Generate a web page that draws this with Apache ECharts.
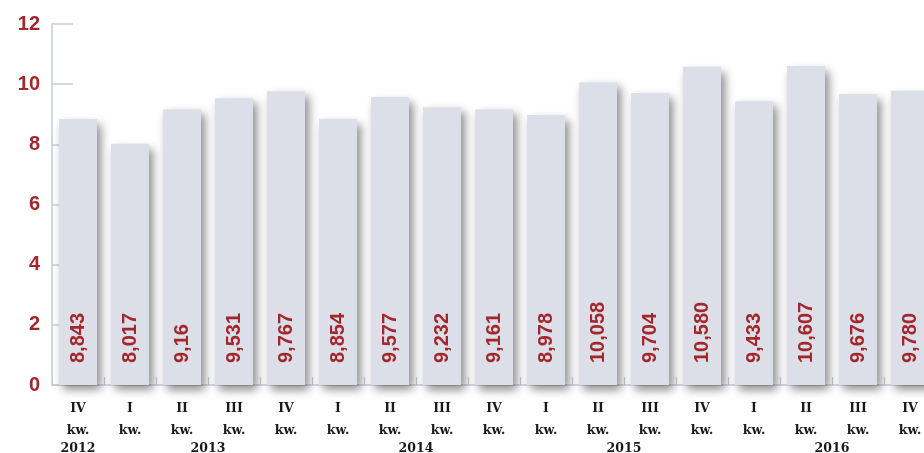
<!DOCTYPE html>
<html>
<head>
<meta charset="utf-8">
<script src="https://cdn.jsdelivr.net/npm/echarts@6/dist/echarts.min.js"></script>
<style>html,body{margin:0;padding:0;background:#fff;}#c{width:924px;height:453px;}</style>
</head>
<body>
<div id="c"></div>
<script>
var quarters = ['IV','I','II','III','IV','I','II','III','IV','I','II','III','IV','I','II','III','IV'];
var values = [8.843, 8.017, 9.16, 9.531, 9.767, 8.854, 9.577, 9.232, 9.161, 8.978, 10.058, 9.704, 10.580, 9.433, 10.607, 9.676, 9.780];
var valueLabels = ['8,843','8,017','9,16','9,531','9,767','8,854','9,577','9,232','9,161','8,978','10,058','9,704','10,580','9,433','10,607','9,676','9,780'];
var years = ['2012','2013','2014','2015','2016'];
// half-band positions (0..34) where each year label is centred
var yearPositions = [1, 6, 14, 22, 30];
var yTicks = [0, 2, 4, 6, 8, 10, 12];

var yearSlots = [];
for (var i = 0; i <= 34; i++) yearSlots.push('');
yearPositions.forEach(function (p, k) { yearSlots[p] = years[k]; });

var red = '#a3272b';
var axisCol = '#c9ccdd';

var chart = echarts.init(document.getElementById('c'));
chart.setOption({
  animation: false,
  grid: { left: 52, top: 24, bottom: 68, width: 884, containLabel: false, outerBoundsMode: 'none' },
  xAxis: [{
    type: 'category',
    data: quarters.map(function (q) { return q + '\nkw.'; }),
    axisLine: { show: true, lineStyle: { color: axisCol, width: 1.5 } },
    axisTick: { show: true, inside: true, length: 8, lineStyle: { color: axisCol } },
    axisLabel: {
      interval: 0, margin: 13, lineHeight: 22,
      fontFamily: 'DejaVu Serif', fontWeight: 'bold', fontSize: 12.5, color: '#1a1a1a'
    }
  }, {
    type: 'category',
    position: 'bottom',
    boundaryGap: false,
    data: yearSlots,
    axisLine: { show: false },
    axisTick: { show: false },
    axisLabel: {
      interval: 0, margin: 57,
      fontFamily: 'DejaVu Serif', fontWeight: 'bold', fontSize: 12.5, color: '#1a1a1a'
    }
  }],
  yAxis: {
    type: 'value',
    min: yTicks[0], max: yTicks[yTicks.length - 1], interval: 2,
    axisLine: { show: true, lineStyle: { color: axisCol, width: 1.5 } },
    axisTick: { show: true, inside: true, length: 21, lineStyle: { color: axisCol, width: 1.5 } },
    splitLine: { show: false },
    axisLabel: {
      margin: 12, fontFamily: 'Liberation Sans', fontWeight: 'bold', fontSize: 20, color: red
    }
  },
  series: [{
    type: 'bar',
    xAxisIndex: 0,
    data: values,
    barWidth: 38,
    itemStyle: {
      color: '#dcdee8',
      shadowColor: 'rgba(0,0,0,0.45)',
      shadowBlur: 9,
      shadowOffsetX: 4,
      shadowOffsetY: 5
    },
    label: {
      show: true,
      position: 'insideBottom',
      rotate: 90,
      align: 'left',
      verticalAlign: 'middle',
      distance: 22,
      fontFamily: 'Liberation Sans',
      fontWeight: 'bold',
      fontSize: 20,
      color: red,
      formatter: function (p) { return valueLabels[p.dataIndex]; }
    }
  }]
});
</script>
</body>
</html>
